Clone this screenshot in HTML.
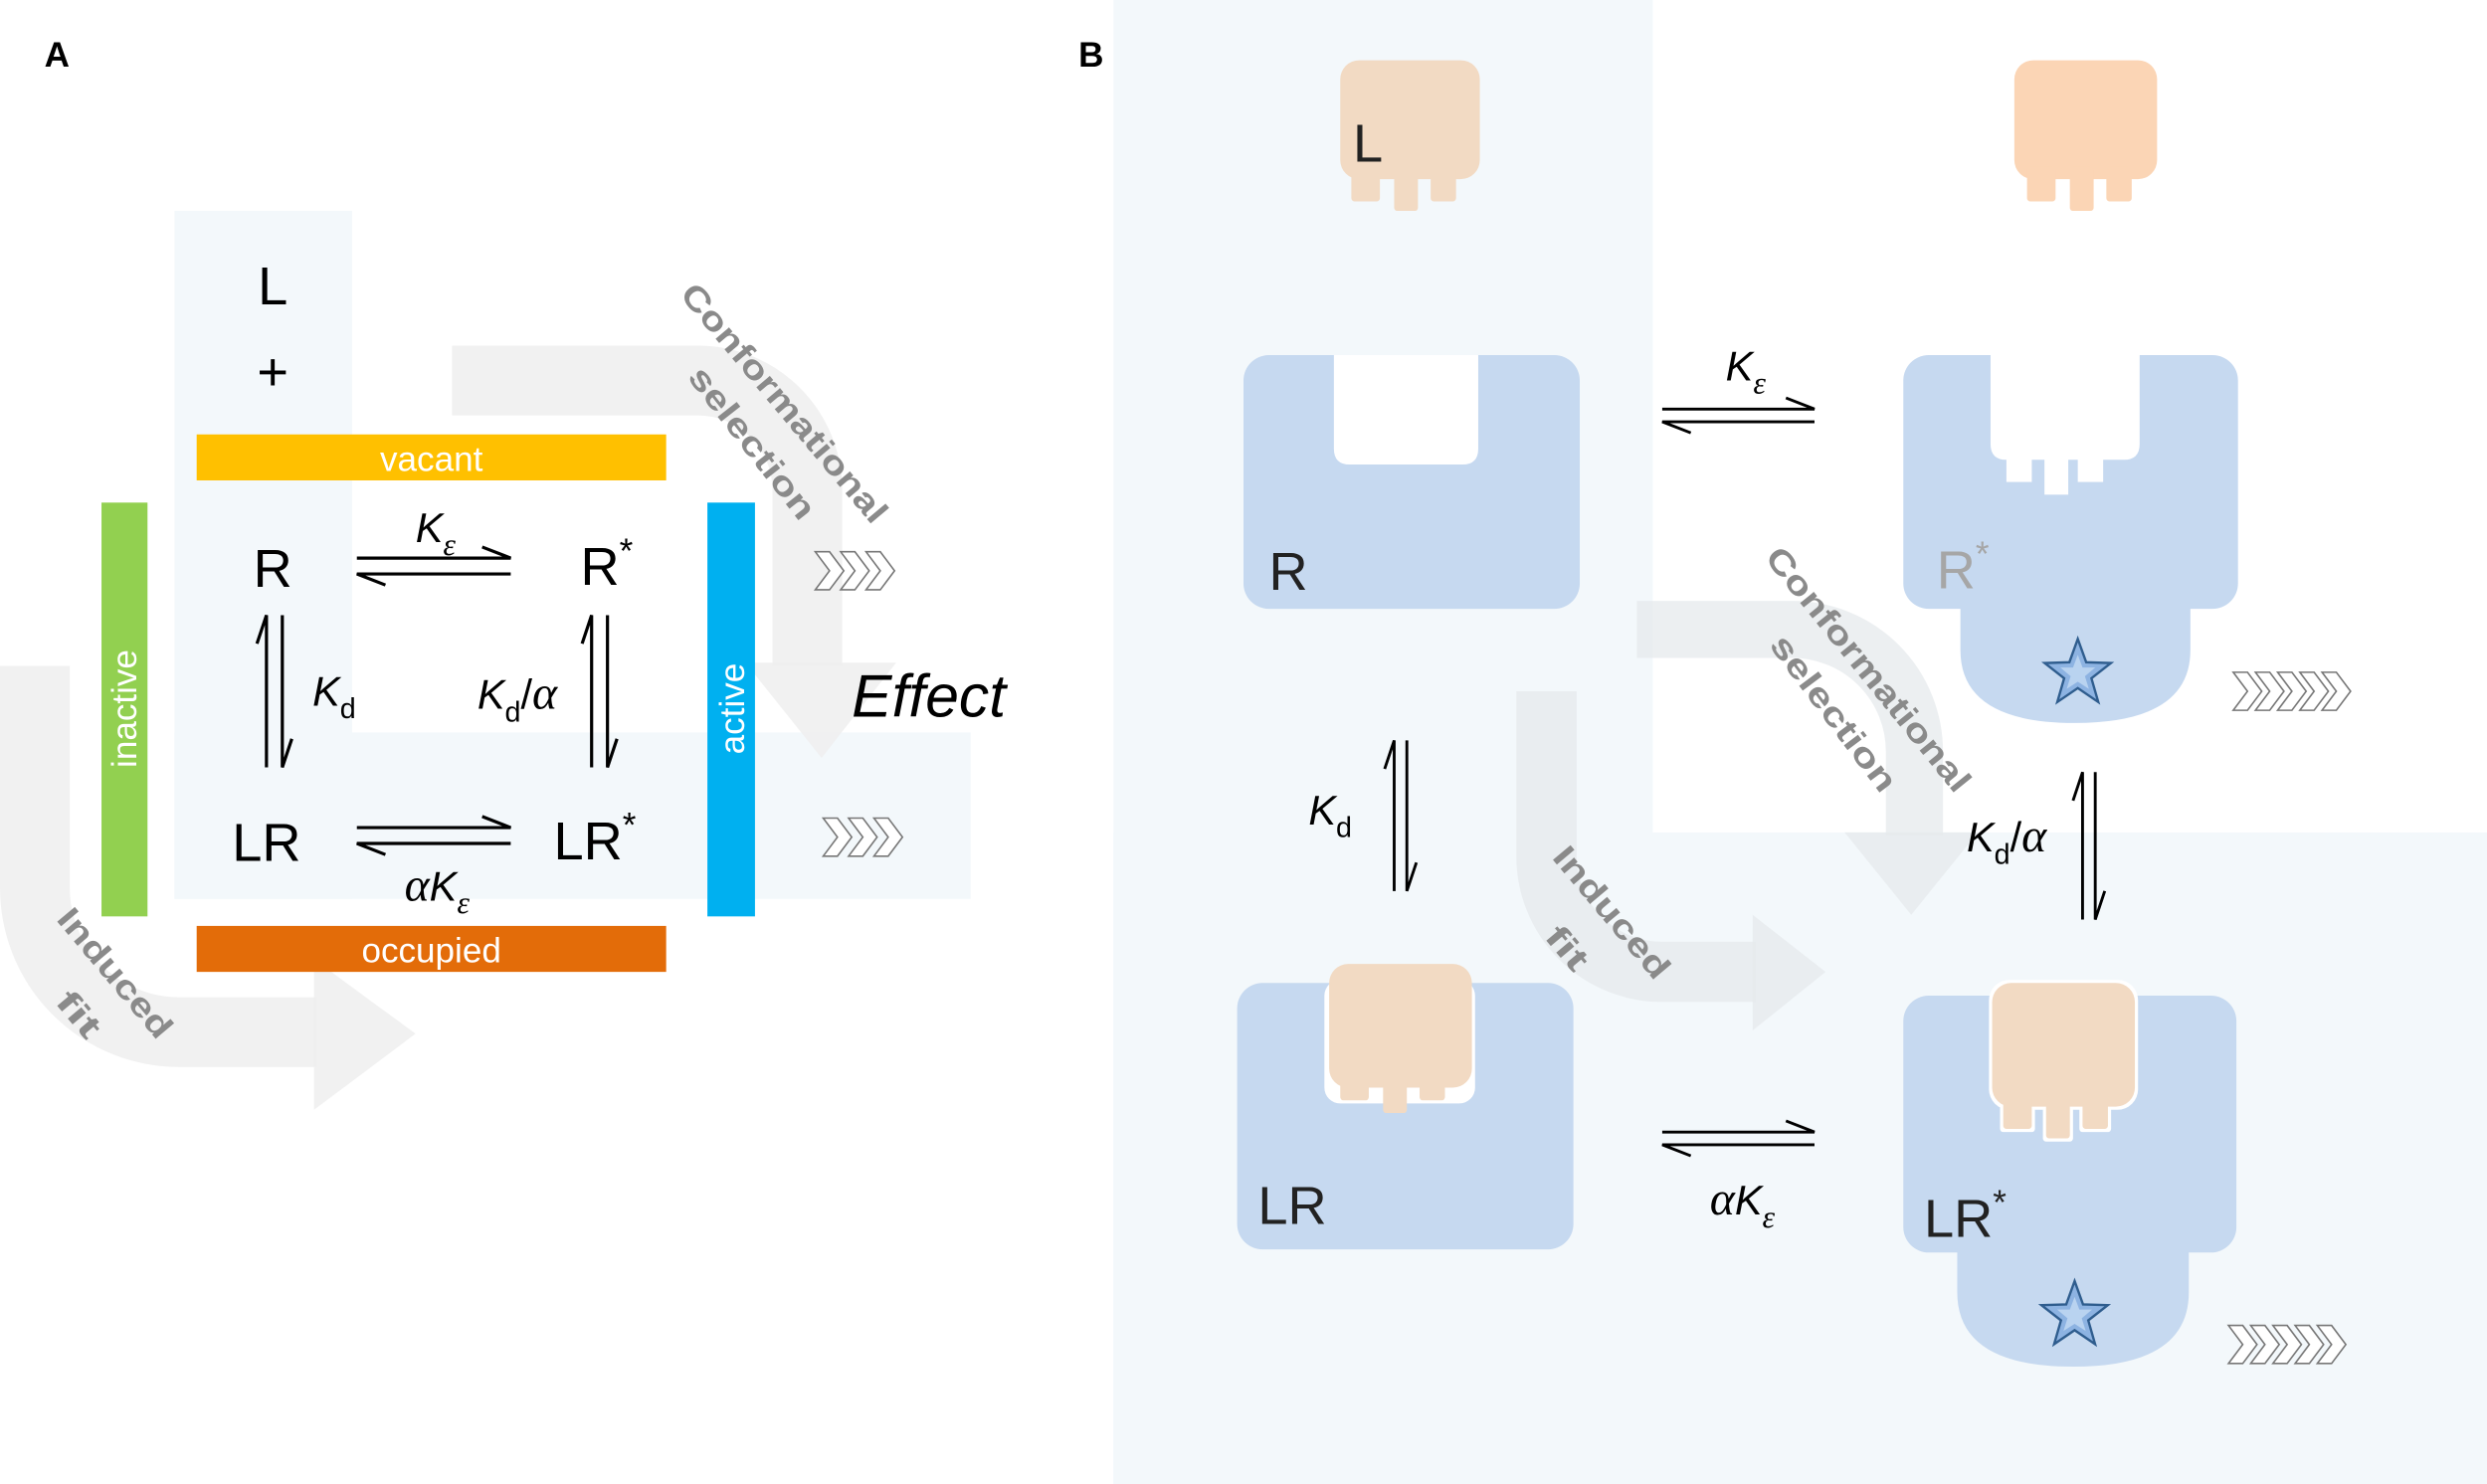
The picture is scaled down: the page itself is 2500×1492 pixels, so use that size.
<!DOCTYPE html>
<html><head><meta charset="utf-8"><style>
html,body{margin:0;padding:0;background:#fff}
svg{display:block}
text{font-family:"Liberation Sans",sans-serif}
</style></head><body>
<svg width="2500" height="1492" viewBox="0 0 1568 936" preserveAspectRatio="none" xmlns="http://www.w3.org/2000/svg">
<defs>
<g id="star"><polygon points="0,-22 5.3,-7.3 20.9,-6.8 8.6,2.8 12.9,17.8 0,9 -12.9,17.8 -8.6,2.8 -20.9,-6.8 -5.3,-7.3" fill="#8db3e2" stroke="#2f5d8e" stroke-width="1.5"/><polygon points="0,-12 3,-4 11,-4 4.5,1.5 7,9.5 0,5 -7,9.5 -4.5,1.5 -11,-4 -3,-4" fill="#b9d3f0"/></g>
<g id="chev"><polygon points="0,-12 9,-12 18,0 9,12 0,12 9,0" fill="#fff" stroke="#777" stroke-width="1"/></g>
</defs>
<rect width="1568" height="936" fill="#fff"/>
<rect x="110" y="133" width="112" height="434" fill="#f3f8fb"/>
<rect x="110" y="462" width="502" height="105" fill="#f3f8fb"/>
<path d="M285,240 H440 A69,69 0 0 1 509,309 V420" fill="none" stroke="#eeeeee" stroke-width="44" opacity="0.85"/>
<polygon points="470,418 565,418 518,478" fill="#eeeeee" opacity="0.85"/>
<path d="M22,420 V560 A91,91 0 0 0 113,651 H200" fill="none" stroke="#eeeeee" stroke-width="44" opacity="0.85"/>
<polygon points="198,605 262,652 198,700" fill="#eeeeee" opacity="0.85"/>
<text x="28" y="42" font-size="22" font-weight="bold">A</text>
<rect x="124" y="274" width="296" height="29" fill="#ffc000"/>
<text x="272" y="297" font-size="22" fill="#fff" text-anchor="middle">vacant</text>
<rect x="124" y="584" width="296" height="29" fill="#e36c09"/>
<text x="272" y="607" font-size="22" fill="#fff" text-anchor="middle">occupied</text>
<rect x="64" y="317" width="29" height="261" fill="#92d050"/>
<text transform="translate(86,447) rotate(-90)" font-size="22" fill="#fff" text-anchor="middle">inactive</text>
<rect x="446" y="317" width="30" height="261" fill="#00b0f0"/>
<text transform="translate(469,447) rotate(-90)" font-size="22" fill="#fff" text-anchor="middle">active</text>
<g font-size="34" text-anchor="middle">
<text x="172" y="192">L</text>
<text x="172" y="246">+</text>
<text x="172" y="370">R</text>
<text x="168" y="543">LR</text>
</g>
<text x="366" y="369" font-size="34">R<tspan font-size="22" dy="-14">*</tspan></text>
<text x="349" y="542" font-size="34">LR<tspan font-size="22" dy="-14">*</tspan></text>
<g stroke="#000" stroke-width="2" fill="none">
<path d="M225,352 H322 L304,345"/><path d="M322,362 H225 L243,369"/>
<path d="M225,522 H322 L304,515"/><path d="M322,532 H225 L243,539"/>
<path d="M168,484 V388 L162,406"/><path d="M178,388 V484 L184,466"/>
<path d="M373,484 V388 L367,406"/><path d="M383,388 V484 L389,466"/>
</g>
<text x="262" y="342" font-size="26" font-style="italic">K<tspan font-family="Liberation Serif" font-size="20" dy="8">ε</tspan></text>
<text x="197" y="445" font-size="26" font-style="italic">K<tspan font-style="normal" font-size="18" dy="8">d</tspan></text>
<text x="301" y="447" font-size="26" font-style="italic">K<tspan font-style="normal" font-size="18" dy="8">d</tspan><tspan dy="-8" font-style="normal">/</tspan><tspan font-family="Liberation Serif" font-size="30">α</tspan></text>
<text x="255" y="568" font-size="26" font-style="italic"><tspan font-family="Liberation Serif" font-size="30">α</tspan>K<tspan font-family="Liberation Serif" font-size="20" dy="8">ε</tspan></text>
<text x="537" y="452" font-size="38" font-style="italic">Effect</text>
<use href="#chev" x="514" y="360"/><use href="#chev" x="530" y="360"/><use href="#chev" x="546" y="360"/>
<use href="#chev" x="519" y="528"/><use href="#chev" x="535" y="528"/><use href="#chev" x="551" y="528"/>
<g font-size="21" font-weight="bold" fill="#8a8a8a">
<text transform="translate(428,186) rotate(50)" textLength="190" lengthAdjust="spacingAndGlyphs">Conformational</text>
<text transform="translate(433,238) rotate(52)" textLength="116" lengthAdjust="spacingAndGlyphs">selection</text>
<text transform="translate(35,580) rotate(50)" textLength="100" lengthAdjust="spacingAndGlyphs">Induced</text>
<text transform="translate(34,632) rotate(50)" textLength="32" lengthAdjust="spacingAndGlyphs">fit</text>
</g>
<rect x="702" y="0" width="340" height="936" fill="#f3f8fb"/>
<rect x="702" y="525" width="866" height="411" fill="#f3f8fb"/>
<text x="680" y="42" font-size="22" font-weight="bold">B</text>
<g fill="#f2dac3">
<rect x="845" y="38" width="88" height="75" rx="12"/>
<rect x="852" y="105" width="18" height="22" rx="2"/><rect x="879" y="105" width="15" height="28" rx="2"/><rect x="902" y="105" width="16" height="22" rx="2"/>
</g>
<text x="853" y="102" font-size="34" fill="#222">L</text>
<g fill="#fbd5b5">
<rect x="1270" y="38" width="90" height="75" rx="12"/>
<rect x="1278" y="105" width="18" height="22" rx="2"/><rect x="1305" y="105" width="15" height="28" rx="2"/><rect x="1328" y="105" width="16" height="22" rx="2"/>
</g>
<path d="M1032,397 H1130 A77,77 0 0 1 1207,474 V527" fill="none" stroke="#e6e9ec" stroke-width="36" opacity="0.75"/>
<polygon points="1163,525 1247,525 1205,577" fill="#e6e9ec" opacity="0.75"/>
<path d="M975,436 V540 A73,73 0 0 0 1048,613 H1107" fill="none" stroke="#e6e9ec" stroke-width="38" opacity="0.75"/>
<polygon points="1105,577 1151,613 1105,650" fill="#e6e9ec" opacity="0.75"/>
<rect x="784" y="224" width="212" height="160" rx="16" fill="#c6d9f0"/>
<path d="M841,224 V283 Q841,293 851,293 H922 Q932,293 932,283 V224 Z" fill="#fff"/>
<text x="800" y="372" font-size="34" fill="#222">R</text>
<path d="M1236,370 H1381 V410 Q1381,456 1308,456 Q1236,456 1236,410 Z" fill="#c6d9f0"/>
<rect x="1200" y="224" width="211" height="160" rx="16" fill="#c6d9f0"/>
<path d="M1255,224 V280 Q1255,290 1265,290 H1339 Q1349,290 1349,280 V224 Z" fill="#fff"/>
<rect x="1265" y="288" width="16" height="16" fill="#fff"/><rect x="1289" y="288" width="15" height="24" fill="#fff"/><rect x="1310" y="288" width="16" height="16" fill="#fff"/>
<text x="1221" y="371" font-size="34" fill="#a6a6a6">R<tspan font-size="22" dy="-14">*</tspan></text>
<use href="#star" x="1310" y="425"/>
<rect x="780" y="620" width="212" height="168" rx="16" fill="#c6d9f0"/>
<rect x="835" y="618" width="95" height="78" rx="10" fill="#fff"/>
<g fill="#f2dac3">
<rect x="838" y="608" width="90" height="78" rx="12"/>
<rect x="845" y="680" width="18" height="14" rx="2"/><rect x="872" y="680" width="15" height="22" rx="2"/><rect x="895" y="680" width="16" height="14" rx="2"/>
</g>
<text x="793" y="772" font-size="34" fill="#222">LR</text>
<path d="M1234,780 H1380 V815 Q1380,862 1307,862 Q1234,862 1234,815 Z" fill="#c6d9f0"/>
<rect x="1200" y="628" width="210" height="162" rx="16" fill="#c6d9f0"/>
<g fill="#fff">
<rect x="1254" y="618" width="94" height="82" rx="13"/>
<rect x="1261" y="690" width="22" height="24" rx="2"/><rect x="1288" y="690" width="19" height="30" rx="2"/><rect x="1311" y="690" width="20" height="24" rx="2"/>
</g>
<g fill="#f2dac3">
<rect x="1256" y="620" width="90" height="78" rx="12"/>
<rect x="1263" y="690" width="18" height="22" rx="2"/><rect x="1290" y="690" width="15" height="28" rx="2"/><rect x="1313" y="690" width="16" height="22" rx="2"/>
</g>
<text x="1213" y="780" font-size="34" fill="#222">LR<tspan font-size="22" dy="-14">*</tspan></text>
<use href="#star" x="1308" y="830"/>
<g stroke="#000" stroke-width="1.8" fill="none">
<path d="M1048,258 H1144 L1126,251"/><path d="M1144,266 H1048 L1066,273"/>
<path d="M1048,714 H1144 L1126,707"/><path d="M1144,722 H1048 L1066,729"/>
<path d="M879,562 V467 L873,485"/><path d="M887,467 V562 L893,544"/>
<path d="M1313,580 V487 L1307,505"/><path d="M1321,487 V580 L1327,562"/>
</g>
<text x="1088" y="240" font-size="26" font-style="italic">K<tspan font-family="Liberation Serif" font-size="20" dy="8">ε</tspan></text>
<text x="825" y="520" font-size="26" font-style="italic">K<tspan font-style="normal" font-size="18" dy="8">d</tspan></text>
<text x="1240" y="537" font-size="26" font-style="italic">K<tspan font-style="normal" font-size="18" dy="8">d</tspan><tspan dy="-8" font-style="normal">/</tspan><tspan font-family="Liberation Serif" font-size="30">α</tspan></text>
<text x="1078" y="766" font-size="26" font-style="italic"><tspan font-family="Liberation Serif" font-size="30">α</tspan>K<tspan font-family="Liberation Serif" font-size="20" dy="8">ε</tspan></text>
<use href="#chev" x="1408" y="436"/><use href="#chev" x="1422" y="436"/><use href="#chev" x="1436" y="436"/><use href="#chev" x="1450" y="436"/><use href="#chev" x="1464" y="436"/>
<use href="#chev" x="1405" y="848"/><use href="#chev" x="1419" y="848"/><use href="#chev" x="1433" y="848"/><use href="#chev" x="1447" y="848"/><use href="#chev" x="1461" y="848"/>
<g font-size="21" font-weight="bold" fill="#8a8a8a">
<text transform="translate(1112,352) rotate(51)" textLength="192" lengthAdjust="spacingAndGlyphs">Conformational</text>
<text transform="translate(1115,407) rotate(53)" textLength="118" lengthAdjust="spacingAndGlyphs">selection</text>
<text transform="translate(978,541) rotate(50)" textLength="102" lengthAdjust="spacingAndGlyphs">Induced</text>
<text transform="translate(973,591) rotate(50)" textLength="30" lengthAdjust="spacingAndGlyphs">fit</text>
</g>
</svg>
</body></html>
